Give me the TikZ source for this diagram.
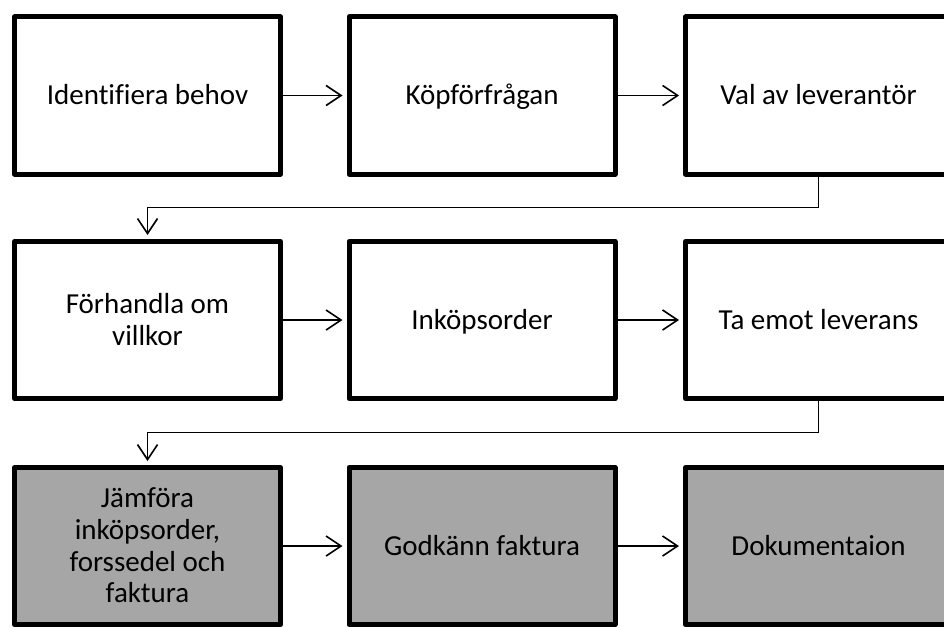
\documentclass[tikz,border=0pt]{standalone}
\usepackage{fontspec}
\setmainfont{Carlito}[Ligatures={NoCommon}]
\usetikzlibrary{arrows.meta}
\definecolor{stepgray}{HTML}{A6A6A6}
% line strut that keeps every text line centred on its capitals
\newcommand\lh{\rule[-6.5pt]{0pt}{31.7pt}}
\begin{document}
\begin{tikzpicture}[x=1pt,y=-1pt,
  stepbox/.style={draw=black, line width=5pt, line join=round, fill=white,
    minimum width=266pt, minimum height=157pt, inner sep=0pt, align=center,
    font=\fontsize{29}{31.7}\selectfont},
  graybox/.style={stepbox, fill=stepgray},
  flow/.style={line width=1.6pt, -{Straight Barb[length=15pt,width=20pt,line width=1.6pt]}, shorten >=4pt}
]
\useasboundingbox (0,0) rectangle (944,626);
% row 1
\node[stepbox] (b1) at (147.5,95.5) {\lh Identifiera behov};
\node[stepbox] (b2) at (482,95.5) {\lh Köpförfrågan};
\node[stepbox] (b3) at (818.5,95.5) {\lh Val av leverantör};
% row 2
\node[stepbox] (b4) at (147.5,320) {\lh Förhandla om\\\lh villkor};
\node[stepbox] (b5) at (482,320) {\lh Inköpsorder};
\node[stepbox] (b6) at (818.5,320) {\lh Ta emot leverans};
% row 3
\node[graybox] (b7) at (147.5,546) {\lh Jämföra\\\lh inköpsorder,\\\lh forssedel och\\\lh faktura};
\node[graybox] (b8) at (482,546) {\lh Godkänn faktura};
\node[graybox] (b9) at (818.5,546) {\lh Dokumentaion};
% connectors within rows
\draw[flow] (b1) -- (b2);
\draw[flow] (b2) -- (b3);
\draw[flow] (b4) -- (b5);
\draw[flow] (b5) -- (b6);
\draw[flow] (b7) -- (b8);
\draw[flow] (b8) -- (b9);
% connectors between rows
\draw[flow] (b3.south) -- ++(0,31) -| (b4.north);
\draw[flow] (b6.south) -- ++(0,31.5) -| (b7.north);
\end{tikzpicture}
\end{document}
